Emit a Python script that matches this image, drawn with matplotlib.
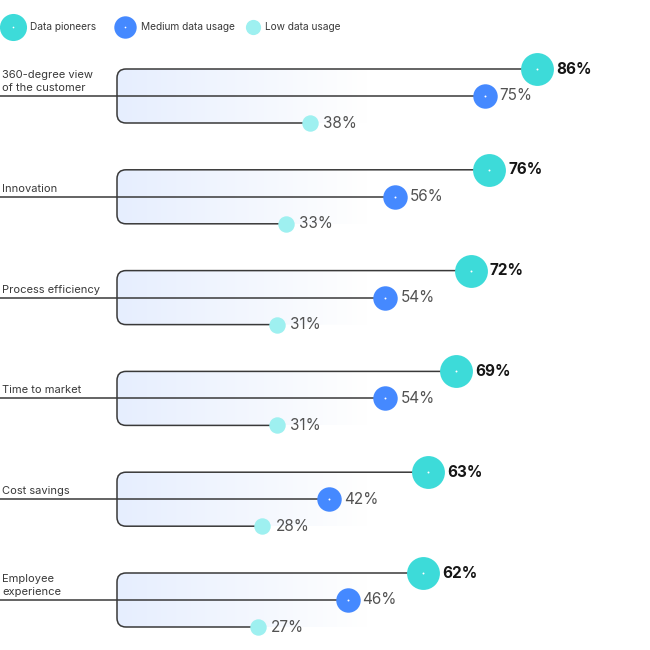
import numpy as np
import matplotlib.pyplot as plt
from matplotlib.path import Path
from matplotlib.patches import PathPatch
from matplotlib.colors import LinearSegmentedColormap

# Données
categories = ["360-degree view\nof the customer", "Innovation", "Process efficiency",
              "Time to market", "Cost savings", "Employee\nexperience"]
pioneers = [86, 76, 72, 69, 63, 62]
medium = [75, 56, 54, 54, 42, 46]
low = [38, 33, 31, 31, 28, 27]
series_names = ["Data pioneers", "Medium data usage", "Low data usage"]

c_pio = "#3ddbd9"
c_med = "#4589ff"
c_low = "#9ef0f0"
line_c = "#393939"
txt_c = "#393939"

plt.rcParams['font.family'] = ['Inter', 'DejaVu Sans']

fig = plt.figure(figsize=(6.5, 6.5), dpi=100)
ax = fig.add_axes([0, 0, 1, 1])
# 1 unité x = 4.73 px, 0 % à x=130 px ; 1 rangée = 100.8 px, rangée 0 à y=96 px
px_x = 4.73
px_y = 100.8
ax.set_xlim(-130 / px_x, (650 - 130) / px_x)
ax.set_ylim((650 - 96) / px_y, -96 / px_y)
ax.axis("off")

dy = 27 / px_y
x_left = -13 / px_x
rx = 9 / px_x
ry = 9 / px_y

cmap = LinearSegmentedColormap.from_list("fade", ["#e6eefe", "#ffffff"])
fade = 250 / px_x

for i, cat in enumerate(categories):
    yt, ym, yb = i - dy, i, i + dy
    xp, xm, xl = pioneers[i], medium[i], low[i]

    # dégradé dans le crochet
    verts = [(xp, yt), (x_left + rx, yt), (x_left, yt), (x_left, yt + ry),
             (x_left, yb - ry), (x_left, yb), (x_left + rx, yb), (xp, yb), (xp, yt)]
    codes = [Path.MOVETO, Path.LINETO, Path.CURVE3, Path.CURVE3,
             Path.LINETO, Path.CURVE3, Path.CURVE3, Path.LINETO, Path.CLOSEPOLY]
    clip = PathPatch(Path(verts, codes), facecolor="none", edgecolor="none")
    ax.add_patch(clip)
    grad = np.linspace(0, 1, 256)[None, :]
    im = ax.imshow(grad, cmap=cmap, extent=[x_left, x_left + fade, yb, yt],
                   aspect="auto", zorder=0, interpolation="bicubic")
    im.set_clip_path(clip)

    # crochet
    verts = [(xp, yt), (x_left + rx, yt), (x_left, yt), (x_left, yt + ry),
             (x_left, yb - ry), (x_left, yb), (x_left + rx, yb), (xl, yb)]
    codes = [Path.MOVETO, Path.LINETO, Path.CURVE3, Path.CURVE3,
             Path.LINETO, Path.CURVE3, Path.CURVE3, Path.LINETO]
    ax.add_patch(PathPatch(Path(verts, codes), facecolor="none", edgecolor=line_c,
                           lw=1.1, zorder=1))
    ax.plot([-130 / px_x, xm], [ym, ym], color=line_c, lw=1.1, zorder=1)

    # points
    ax.scatter([xp], [yt], s=560, color=c_pio, zorder=3, linewidths=0)
    ax.scatter([xm], [ym], s=310, color=c_med, zorder=3, linewidths=0)
    ax.scatter([xl], [yb], s=140, color=c_low, zorder=3, linewidths=0)
    ax.scatter([xp, xm], [yt, ym], s=2, color="white", zorder=4, linewidths=0)

    ax.text(xp + 19 / px_x, yt, f"{xp}%", fontsize=11, fontweight="bold",
            color="#161616", va="center", ha="left")
    ax.text(xm + 15 / px_x, ym, f"{xm}%", fontsize=11, color="#525252",
            va="center", ha="left")
    ax.text(xl + 13 / px_x, yb, f"{xl}%", fontsize=11, color="#525252",
            va="center", ha="left")

    ax.text(-128 / px_x, ym - 3 / px_y, cat, fontsize=8, color=txt_c,
            va="bottom", ha="left", linespacing=1.35)

# légende
leg_y = (27 - 96) / px_y
leg = [(13, 380, c_pio, True), (125, 260, c_med, True), (253, 120, c_low, False)]
for (xpx, s, c, dot), name in zip(leg, series_names):
    xv = (xpx - 130) / px_x
    ax.scatter([xv], [leg_y], s=s, color=c, linewidths=0, zorder=3)
    if dot:
        ax.scatter([xv], [leg_y], s=1.5, color="white", linewidths=0, zorder=4)
    off = 17 if dot and s > 300 else 16 if dot else 12
    ax.text(xv + off / px_x, leg_y, name, fontsize=7.3, color=txt_c,
            va="center", ha="left")

fig.savefig("out.png", dpi=100)
